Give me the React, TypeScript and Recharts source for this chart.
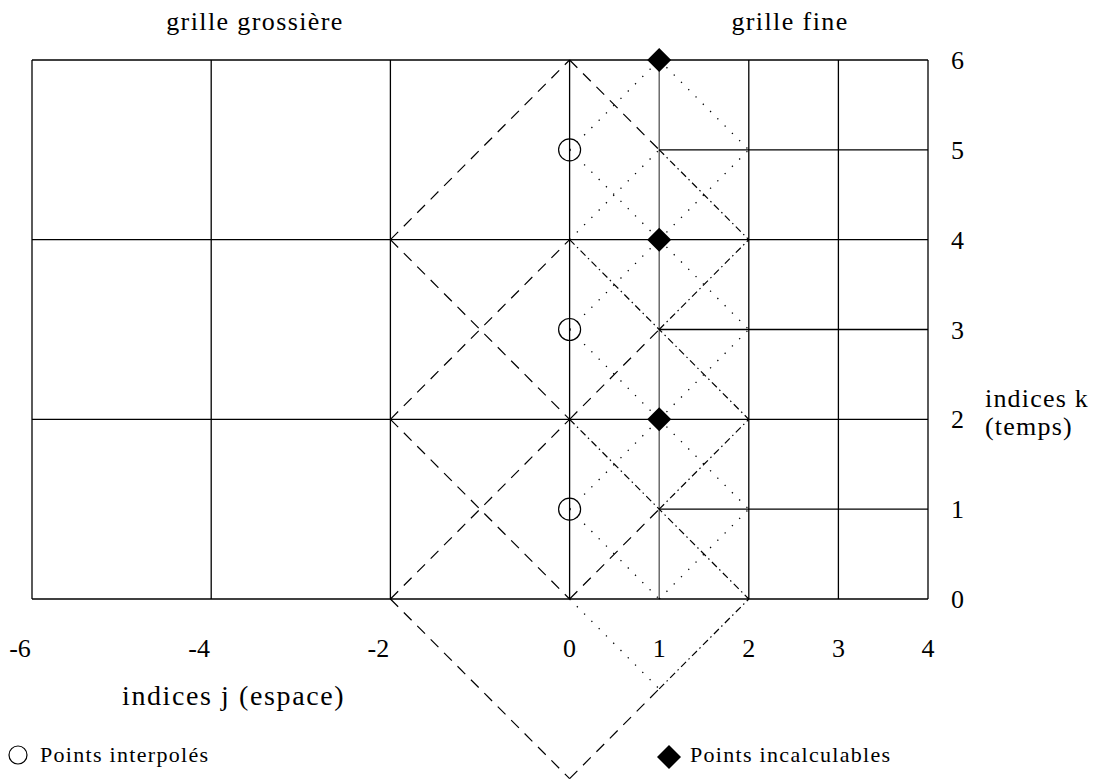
import React from "react"
import { ComposedChart, XAxis, YAxis, ReferenceLine, Scatter } from "recharts"

type Pt = [number, number]
type Seg = [Pt, Pt]

// axes
const jTicks = [-6, -4, -2, 0, 1, 2, 3, 4]
const kTicks = [0, 1, 2, 3, 4, 5, 6]

// grid lines
const gridColumns = [-6, -4, -2, 0, 1, 2, 3, 4]
const coarseRows = [0, 2, 4, 6]
const fineRows = [1, 3, 5]

// characteristics
const dashedSegs: Seg[] = [
  [[-2, 0], [0, 2]], [[-2, 2], [0, 0]],
  [[-2, 2], [0, 4]], [[-2, 4], [0, 2]],
  [[-2, 4], [0, 6]],
  [[-2, 0], [0, -2]], [[0, -2], [1, -1]],
  [[0, 6], [1, 5]], [[0, 2], [1, 3]], [[0, 0], [1, 1]],
]
const dashDotSegs: Seg[] = [
  [[1, 5], [2, 4]], [[0, 4], [2, 2]], [[1, 3], [2, 4]],
  [[0, 2], [2, 0]], [[1, 1], [2, 2]], [[1, -1], [2, 0]],
]
const dottedSegs: Seg[] = [
  [[0, 5], [1, 6]], [[1, 6], [2, 5]], [[0, 5], [1, 4]], [[1, 4], [2, 5]],
  [[0, 3], [1, 4]], [[1, 4], [2, 3]], [[0, 3], [1, 2]], [[1, 2], [2, 3]],
  [[0, 1], [1, 2]], [[1, 2], [2, 1]], [[0, 1], [1, 0]], [[1, 0], [2, 1]],
  [[0, 4], [1, 5]], [[0, 0], [1, -1]],
]

// points
const interpolated = [{ j: 0, k: 1 }, { j: 0, k: 3 }, { j: 0, k: 5 }]
const incalculable = [{ j: 1, k: 2 }, { j: 1, k: 4 }, { j: 1, k: 6 }]

const serif = "'Liberation Serif', 'Times New Roman', serif"
const txt = (size: number, ls: number): React.CSSProperties => ({
  position: "absolute", fontFamily: serif, fontSize: size, letterSpacing: ls,
  lineHeight: `${size}px`, whiteSpace: "nowrap", color: "#000",
})

const JTick = (props: any) => {
  const { x, y, payload } = props
  const v = payload.value
  return (
    <text x={x + (v < 0 ? -12 : 0)} y={y + 49} dy="0.35em" textAnchor="middle" fontFamily={serif} fontSize={26} fill="#000">
      {v}
    </text>
  )
}

const KTick = (props: any) => {
  const { x, y, payload } = props
  return (
    <text x={x + 23} y={y} dy="0.35em" textAnchor="start" fontFamily={serif} fontSize={26} fill="#000">
      {payload.value}
    </text>
  )
}

const Circle = (props: any) => <circle cx={props.cx} cy={props.cy} r={11} fill="none" stroke="#000" strokeWidth={1.2} />
const Diamond = (props: any) => {
  const { cx, cy } = props
  const s = 12
  return <path d={`M${cx},${cy - s}L${cx + s},${cy}L${cx},${cy + s}L${cx - s},${cy}Z`} fill="#000" />
}

const seg = (s: Seg) => [{ x: s[0][0], y: s[0][1] }, { x: s[1][0], y: s[1][1] }]

export default function App() {
  return (
    <div style={{ position: "absolute", left: 0, top: 0, width: 1099, height: 780, background: "#fff" }}>
      <ComposedChart width={1099} height={780} margin={{ top: 60, right: 111, bottom: 0, left: 32 }}>
        <XAxis type="number" dataKey="j" domain={[-6, 4]} ticks={jTicks} interval={0} axisLine={false} tickLine={false} tickSize={0} tickMargin={0} height={181} tick={<JTick />} />
        <YAxis type="number" dataKey="k" orientation="right" domain={[0, 6]} ticks={kTicks} interval={0} axisLine={false} tickLine={false} tickSize={0} tickMargin={0} width={60} tick={<KTick />} />

        {gridColumns.map((j) => (
          <ReferenceLine key={`c${j}`} segment={[{ x: j, y: 0 }, { x: j, y: 6 }]} stroke={j === 1 ? "#555" : "#000"} strokeWidth={1.3} ifOverflow="visible" />
        ))}
        {coarseRows.map((k) => (
          <ReferenceLine key={`r${k}`} segment={[{ x: -6, y: k }, { x: 4, y: k }]} stroke="#000" strokeWidth={1.3} ifOverflow="visible" />
        ))}
        {fineRows.map((k) => (
          <ReferenceLine key={`f${k}`} segment={[{ x: 1, y: k }, { x: 4, y: k }]} stroke="#000" strokeWidth={1.3} ifOverflow="visible" />
        ))}

        {dashedSegs.map((s, i) => (
          <ReferenceLine key={`d${i}`} segment={seg(s)} stroke="#000" strokeWidth={1.2} strokeDasharray="11 8" ifOverflow="visible" />
        ))}
        {dashDotSegs.map((s, i) => (
          <ReferenceLine key={`dd${i}`} segment={seg(s)} stroke="#000" strokeWidth={1.2} strokeDasharray="7 3.5 1.5 3.5" ifOverflow="visible" />
        ))}
        {dottedSegs.map((s, i) => (
          <ReferenceLine key={`p${i}`} segment={seg(s)} stroke="#000" strokeWidth={1.3} strokeDasharray="1.3 9" ifOverflow="visible" />
        ))}

        <Scatter data={interpolated} dataKey="k" shape={<Circle />} isAnimationActive={false} />
        <Scatter data={incalculable} dataKey="k" shape={<Diamond />} isAnimationActive={false} />
      </ComposedChart>

      <div style={{ ...txt(26, 1.4), left: 255, top: 9, transform: "translateX(-50%)" }}>grille grossière</div>
      <div style={{ ...txt(26, 1.4), left: 790, top: 9, transform: "translateX(-50%)" }}>grille fine</div>
      <div style={{ ...txt(26, 1.2), left: 985, top: 386 }}>indices k</div>
      <div style={{ ...txt(26, 1.2), left: 985, top: 414 }}>(temps)</div>
      <div style={{ ...txt(28, 1.6), left: 122, top: 682 }}>indices j (espace)</div>

      <svg style={{ position: "absolute", left: 0, top: 740 }} width={40} height={30}>
        <circle cx={18} cy={15} r={9} fill="none" stroke="#000" strokeWidth={1.2} />
      </svg>
      <div style={{ ...txt(22, 1.3), left: 40, top: 744 }}>Points interpolés</div>
      <svg style={{ position: "absolute", left: 655, top: 743 }} width={30} height={30}>
        <path d="M14,2L26,14L14,26L2,14Z" fill="#000" />
      </svg>
      <div style={{ ...txt(22, 1.3), left: 690, top: 744 }}>Points incalculables</div>
    </div>
  )
}
